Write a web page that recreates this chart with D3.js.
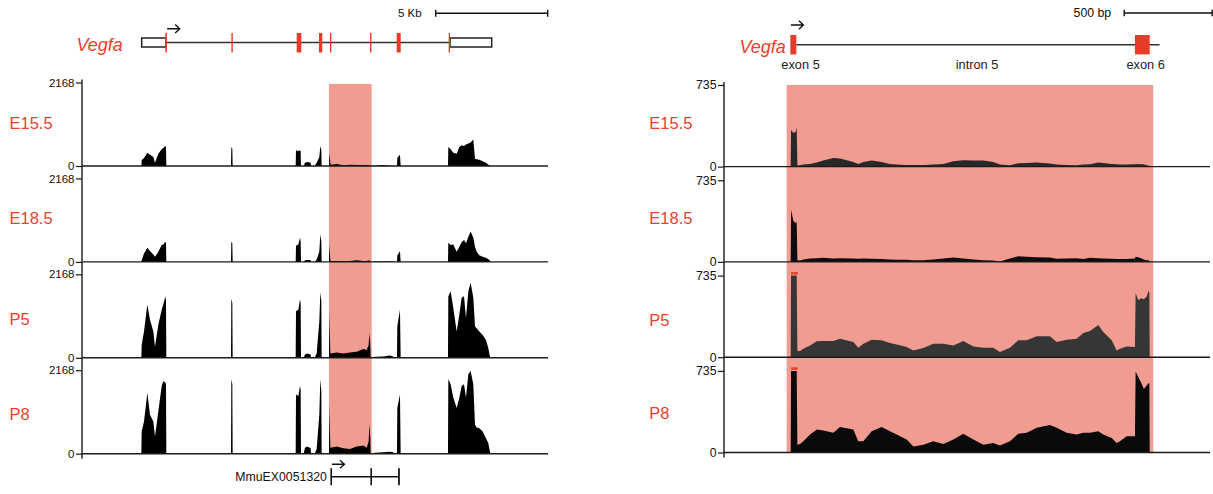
<!DOCTYPE html>
<html><head><meta charset="utf-8">
<script src="https://cdn.jsdelivr.net/npm/d3@7"></script>
<style>
body{margin:0;background:#fff}
svg{display:block}
text{font-family:"Liberation Sans",Arial,Helvetica,sans-serif}
</style>
</head><body>
<svg id="chart" width="1213" height="494"></svg>
<script>
// ---------------- DATA ----------------
const samples = ["E15.5", "E18.5", "P5", "P8"];
const geneName = "Vegfa";

// Left panel: whole gene (bp, relative)
const leftMax = 2168;
const leftDomain = [0, 20804];
const leftScaleBar = [15790, 20790];
const leftScaleLabel = "5 Kb";
const leftUTR = [[2665, 3750], [16428, 18290]];
const leftIntronLine = [3750, 16428];
const leftExons = [[3720, 3790], [6670, 6730], [9585, 9790], [10580, 10727], [11070, 11130], [12860, 12920], [14049, 14228], [16370, 16430]];
const leftTSS = 3780;
const leftHighlight = [11026, 12933];
const eventName = "MmuEX0051320";
const eventLine = [11102, 14150];
const eventExons = [[11090, 11125], [12875, 12905], [14110, 14190]];

const leftPos = [2649,2664,2768,2917,3036,3185,3259,3408,3557,3631,3720,3750,3765,
  6652,6667,6711,6726,
  9539,9554,9658,9732,9762,9777,
  9896,9955,10060,10208,10223,
  10387,10476,10595,10640,10685,10699,
  11027,11042,11086,11101,11369,11667,11964,12262,12560,12708,12798,12827,12872,12887,
  13080,13452,13750,13899,13914,
  14062,14077,14137,14196,14226,
  16339,16354,16458,16577,16726,16845,16949,17054,17143,17247,17351,17470,17545,17619,17738,17887,18036,18140,18214,18229];
const leftE155 = [0,147,208,347,295,234,87,321,434,468,520,494,0,
  0,494,451,0,
  0,408,382,408,382,0,
  0,87,104,87,0,
  0,87,234,520,408,0,
  0,338,87,35,52,17,35,26,26,17,17,17,9,0,
  5,26,9,9,0,
  0,208,251,295,0,
  0,494,434,347,321,494,538,520,555,581,607,685,191,173,165,121,87,35,17,0];
const leftE185 = [0,44,219,367,280,192,131,262,437,455,525,481,0,
  0,525,481,0,
  0,420,455,629,525,0,
  0,44,52,52,0,
  0,61,262,717,525,0,
  0,455,61,26,26,17,26,44,26,26,44,35,17,0,
  9,9,17,9,0,
  0,175,219,280,0,
  0,498,437,455,262,393,507,568,481,656,787,629,393,262,175,131,105,70,35,0];
const leftP5 = [0,332,682,1381,988,682,288,857,1250,1381,1600,1469,0,
  0,1530,1425,0,
  0,1206,1250,1512,1425,0,
  0,87,114,87,0,
  0,114,944,1700,1469,0,
  0,1163,140,114,140,114,140,157,227,201,332,638,332,0,
  26,35,61,35,0,
  0,813,1032,1250,0,
  0,1600,1731,1294,682,1119,1556,1600,1032,1731,1949,1556,813,769,682,594,463,245,26,0];
const leftP8 = [0,577,839,1582,1014,839,446,1101,1757,1888,1845,1801,0,
  0,1932,1801,0,
  0,1539,1495,1757,1670,0,
  0,157,184,140,0,
  0,122,1014,1932,1626,0,
  0,1276,184,157,184,140,122,184,210,157,315,769,402,0,
  26,35,52,35,0,
  0,1189,1364,1539,0,
  0,1932,1801,1451,1189,1451,1757,1801,1451,2063,2150,1801,752,682,664,577,402,271,52,0];

// Right panel: exon 5 - intron 5 - exon 6 (bp, relative)
const rightMax = 735;
const rightDomain = [0, 2790];
const rightScaleBar = [2274, 2774];
const rightScaleLabel = "500 bp";
const rightExons = [[377, 411], [2335, 2419]];
const rightIntronLine = [411, 2475];
const rightTSS = 380;
const rightHighlight = [356, 2439];
const rightFeatureLabels = ["exon 5", "intron 5", "exon 6"];
const rightFeaturePos = [435, 1438, 2396];

const rightPos = [379,381,394,409,413,417,432,451,489,527,564,621,659,735,763,792,839,896,943,981,
  1038,1076,1133,1189,1246,1303,1360,1417,1474,1530,1568,1625,1672,1720,1777,1852,1890,1947,2004,2042,
  2080,2127,2155,2203,2231,2250,2288,2335,2339,2354,2373,2386,2402,2413,2417,2419];
const rightE155 = [0,332,302,317,362,12,12,18,24,36,54,78,72,42,24,42,54,42,24,18,
  15,15,15,18,24,48,57,54,54,42,18,12,30,33,36,27,18,15,12,18,
  21,36,33,24,21,18,18,21,21,24,21,21,12,9,3,0];
const rightE185 = [0,469,371,346,371,15,12,22,31,34,37,31,34,31,28,31,28,25,22,19,
  19,15,15,22,31,40,31,22,15,12,3,31,52,46,43,40,28,31,34,25,
  37,34,31,28,25,25,25,31,46,43,31,22,15,15,9,0];
const rightP5 = [0,900,900,900,900,55,55,76,106,143,146,146,167,137,85,121,158,152,128,115,
  91,61,82,121,121,106,146,97,85,85,46,85,152,152,188,188,137,158,167,219,
  237,289,228,152,61,76,97,91,577,516,531,522,547,601,577,0];
const rightP8 = [0,900,900,900,900,70,76,101,162,207,198,177,229,207,101,101,192,229,192,162,
  116,55,70,101,76,116,168,116,70,85,64,101,168,177,223,247,223,177,162,177,
  177,192,162,131,85,101,146,146,730,680,619,573,604,625,619,0];

const leftSeries = [leftE155, leftE185, leftP5, leftP8];
const rightSeries = [rightE155, rightE185, rightP5, rightP8];

// ---------------- STYLE ----------------
const RED = "#e8412c";
const EXON_RED = "#e63b27";
const PINK = "#f19c91";
const AXIS = "#1a1a1a";

const svg = d3.select("#chart");

function drawPanel(o) {
  const g = svg.append("g");
  const x = d3.scaleLinear().domain(o.domain).range(o.xRange);
  const axisX = o.xRange[0];
  const tracks = o.series.map((vals, i) => {
    const top = o.top0 + o.step * i;
    const base = top + o.h;
    const y = d3.scaleLinear().domain([0, o.max]).range([base, top]).clamp(true);
    return {vals, top, base, y, i};
  });
  // highlight
  g.append("rect")
    .attr("x", x(o.highlight[0])).attr("width", x(o.highlight[1]) - x(o.highlight[0]))
    .attr("y", tracks[0].top + o.hlTopPad).attr("height", tracks[3].base - tracks[0].top - o.hlTopPad)
    .attr("fill", PINK);
  // areas
  tracks.forEach(t => {
    const pts = o.pos.map((p, k) => [p, t.vals[k]]);
    const area = d3.area().x(d => x(d[0])).y0(t.base).y1(d => t.y(d[1]));
    g.append("path").attr("d", area(pts)).attr("fill", o.colors[t.i]);
    // overflow markers
    pts.forEach((d, k) => {
      if (d[1] > o.max && k + 1 < pts.length) {
        g.append("rect").attr("x", x(d[0])).attr("width", Math.max(1, x(pts[k+1][0]) - x(d[0])))
          .attr("y", t.top - 3.6).attr("height", 2.6).attr("fill", RED);
      }
    });
    // baseline
    g.append("line").attr("x1", axisX).attr("x2", o.baseEnd)
      .attr("y1", t.base).attr("y2", t.base).attr("stroke", AXIS).attr("stroke-width", 1.4);
    // axis ticks
    const ax = g.append("g").attr("transform", `translate(${axisX},0)`)
      .call(d3.axisLeft(t.y).tickValues([0, o.max]).tickSize(6).tickSizeOuter(0).tickPadding(1.5).tickFormat(d3.format("d")));
    ax.select(".domain").remove();
    ax.selectAll("line").attr("stroke", AXIS).attr("stroke-width", 1.2);
    ax.selectAll("text").attr("font-size", o.tickFont).attr("fill", "#111")
      .attr("font-family", '"Liberation Sans",Arial,sans-serif');
    // sample label
    g.append("text").attr("x", o.labelX).attr("y", t.top + o.labelDy[t.i])
      .attr("font-size", 16.5).attr("fill", RED).text(samples[t.i]);
  });
  // vertical axis line
  g.append("line").attr("x1", axisX).attr("x2", axisX)
    .attr("y1", tracks[0].top - 3).attr("y2", tracks[3].base + 5)
    .attr("stroke", AXIS).attr("stroke-width", 1.4);
  return {g, x};
}

// ---------------- LEFT PANEL ----------------
const L = drawPanel({
  domain: leftDomain, xRange: [82, 548], baseEnd: 548,
  top0: 82.5, step: 95.9, h: 83.5, max: leftMax,
  series: leftSeries, pos: leftPos, colors: ["#000", "#000", "#000", "#000"],
  highlight: leftHighlight, hlTopPad: 1.5, tickFont: 11.5,
  labelX: 9.5, labelDy: [46, 46, 51, 50]
});
{
  const g = L.g, x = L.x;
  // scale bar
  const sy = 13.3;
  g.append("line").attr("x1", x(leftScaleBar[0])).attr("x2", x(leftScaleBar[1])).attr("y1", sy).attr("y2", sy).attr("stroke", "#111").attr("stroke-width", 1.6);
  leftScaleBar.forEach(b => g.append("line").attr("x1", x(b)).attr("x2", x(b)).attr("y1", sy - 3.5).attr("y2", sy + 3.5).attr("stroke", "#111").attr("stroke-width", 1.4));
  g.append("text").attr("x", x(leftScaleBar[0]) - 14).attr("y", 17.2).attr("text-anchor", "end").attr("font-size", 11.5).attr("fill", "#111").text(leftScaleLabel);
  // gene model
  const gy = 42.5;
  g.append("line").attr("x1", x(leftIntronLine[0])).attr("x2", x(leftIntronLine[1])).attr("y1", gy).attr("y2", gy).attr("stroke", "#333").attr("stroke-width", 1.5);
  leftUTR.forEach(u => g.append("rect").attr("x", x(u[0])).attr("width", x(u[1]) - x(u[0])).attr("y", gy - 4.5).attr("height", 9)
    .attr("fill", "#fff").attr("stroke", "#222").attr("stroke-width", 1.5));
  leftExons.forEach(e => g.append("rect").attr("x", x(e[0])).attr("width", Math.max(1.4, x(e[1]) - x(e[0]))).attr("y", gy - 9.5).attr("height", 19.5).attr("fill", EXON_RED));
  const ax0 = x(leftTSS) + 0.5, ay = 28.7;
  g.append("path").attr("d", `M${ax0},${ay}H${ax0+12.5}M${ax0+8},${ay-4.2}L${ax0+12.5},${ay}L${ax0+8},${ay+4.2}`)
    .attr("fill", "none").attr("stroke", "#111").attr("stroke-width", 1.4);
  g.append("text").attr("x", 76.5).attr("y", 50.7).attr("font-size", 18).attr("font-style", "italic").attr("fill", RED).text(geneName);
  // event model at bottom
  const ey = 476.7;
  g.append("line").attr("x1", x(eventLine[0])).attr("x2", x(eventLine[1])).attr("y1", ey).attr("y2", ey).attr("stroke", "#111").attr("stroke-width", 1.4);
  eventExons.forEach(e => g.append("rect").attr("x", x(e[0])).attr("width", Math.max(1.6, x(e[1]) - x(e[0]))).attr("y", ey - 8.5).attr("height", 17).attr("fill", "#111"));
  const ex0 = x(eventExons[0][0]) + 1.5, eay = 464.3;
  g.append("path").attr("d", `M${ex0},${eay}H${ex0+12.5}M${ex0+8},${eay-4}L${ex0+12.5},${eay}L${ex0+8},${eay+4}`)
    .attr("fill", "none").attr("stroke", "#111").attr("stroke-width", 1.4);
  g.append("text").attr("x", x(eventExons[0][0]) - 3.5).attr("y", 481).attr("text-anchor", "end").attr("font-size", 12.3).attr("fill", "#111").text(eventName);
}

// ---------------- RIGHT PANEL ----------------
const R = drawPanel({
  domain: rightDomain, xRange: [724, 1215], baseEnd: 1210,
  top0: 85, step: 95.3, h: 81.6, max: rightMax,
  series: rightSeries, pos: rightPos, colors: ["#282828", "#0d0d0d", "#363636", "#0a0a0a"],
  highlight: rightHighlight, hlTopPad: 0, tickFont: 12.3,
  labelX: 649.3, labelDy: [43.5, 44, 50, 48.5]
});
{
  const g = R.g, x = R.x;
  const sy = 13;
  g.append("line").attr("x1", x(rightScaleBar[0])).attr("x2", x(rightScaleBar[1])).attr("y1", sy).attr("y2", sy).attr("stroke", "#111").attr("stroke-width", 1.6);
  rightScaleBar.forEach(b => g.append("line").attr("x1", x(b)).attr("x2", x(b)).attr("y1", sy - 3.3).attr("y2", sy + 3.3).attr("stroke", "#111").attr("stroke-width", 1.4));
  g.append("text").attr("x", x(rightScaleBar[0]) - 13).attr("y", 17).attr("text-anchor", "end").attr("font-size", 12.3).attr("fill", "#111").text(rightScaleLabel);
  const gy = 44.7;
  g.append("line").attr("x1", x(rightIntronLine[0])).attr("x2", x(rightIntronLine[1])).attr("y1", gy).attr("y2", gy).attr("stroke", "#333").attr("stroke-width", 1.5);
  rightExons.forEach(e => g.append("rect").attr("x", x(e[0])).attr("width", x(e[1]) - x(e[0])).attr("y", gy - 9.7).attr("height", 19.4).attr("fill", EXON_RED));
  const ax0 = x(rightTSS), ay = 25;
  g.append("path").attr("d", `M${ax0},${ay}H${ax0+12.5}M${ax0+8},${ay-4.2}L${ax0+12.5},${ay}L${ax0+8},${ay+4.2}`)
    .attr("fill", "none").attr("stroke", "#111").attr("stroke-width", 1.4);
  g.append("text").attr("x", 739.4).attr("y", 53).attr("font-size", 18).attr("font-style", "italic").attr("fill", RED).text(geneName);
  rightFeatureLabels.forEach((t, k) => g.append("text").attr("x", x(rightFeaturePos[k])).attr("y", 69).attr("text-anchor", "middle")
    .attr("font-size", 12.8).attr("fill", "#222").text(t));
}
</script>
</body></html>
